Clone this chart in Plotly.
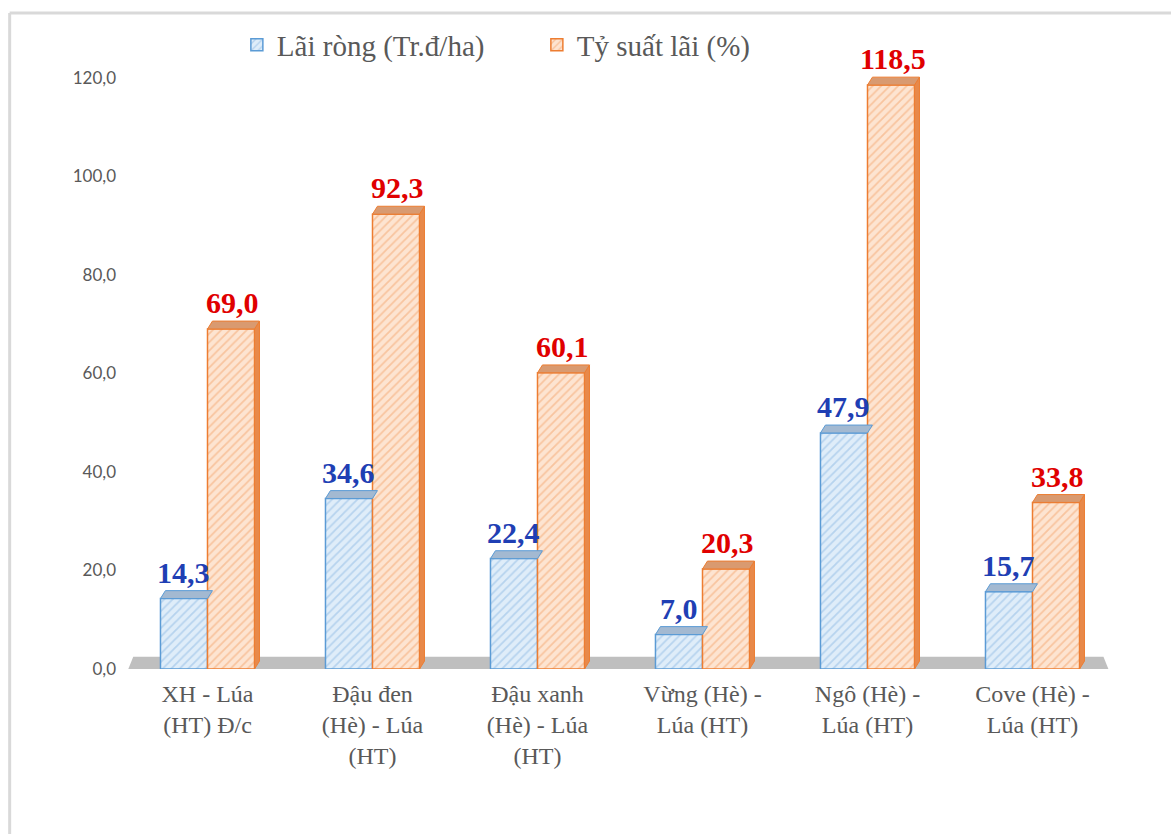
import plotly.graph_objects as go

categories = ["XH - Lúa<br>(HT) Đ/c", "Đậu đen<br>(Hè) - Lúa<br>(HT)", "Đậu xanh<br>(Hè) - Lúa<br>(HT)",
              "Vừng (Hè) -<br>Lúa (HT)", "Ngô (Hè) -<br>Lúa (HT)", "Cove (Hè) -<br>Lúa (HT)"]
lai_rong = [14.3, 34.6, 22.4, 7.0, 47.9, 15.7]
ty_suat = [69.0, 92.3, 60.1, 20.3, 118.5, 33.8]
y_ticks = [0, 20, 40, 60, 80, 100, 120]
series_names = ["Lãi ròng (Tr.đ/ha)", "Tỷ suất lãi (%)"]

x = list(range(len(categories)))
W = 0.285          # bar width in category units
DX = 0.03          # 3D depth (x)
DY = 1.6           # 3D depth (y)

blue_edge, blue_bg, blue_fg = "#5b9bd5", "#dfedf9", "#8db9e4"
or_edge, or_bg, or_fg = "#ed7d31", "#fde4d1", "#f3a36c"

fig = go.Figure()
fig.add_trace(go.Bar(
    x=x, y=lai_rong, name=series_names[0], width=W, offset=-W,
    marker=dict(color=blue_fg, line=dict(color=blue_edge, width=1.5),
                pattern=dict(shape="/", bgcolor=blue_bg, fgcolor=blue_fg, size=6, solidity=0.3)),
))
fig.add_trace(go.Bar(
    x=x, y=ty_suat, name=series_names[1], width=W, offset=0,
    marker=dict(color=or_fg, line=dict(color=or_edge, width=1.5),
                pattern=dict(shape="/", bgcolor=or_bg, fgcolor=or_fg, size=6, solidity=0.3)),
))

shapes = []
# floor
shapes.append(dict(type="path", xref="x", yref="y", layer="below",
                   path=f"M -0.48,0 L 5.46,0 L 5.43,2.5 L -0.45,2.5 Z",
                   fillcolor="#bfbfbf", line=dict(width=0)))
# 3D caps and sides
for i in x:
    xl, xr, v = i - W, i, lai_rong[i]
    shapes.append(dict(type="path", xref="x", yref="y", layer="above",
                       path=f"M {xl},{v} L {xl+DX},{v+DY} L {xr+DX},{v+DY} L {xr},{v} Z",
                       fillcolor="#a3b9d1", line=dict(color=blue_edge, width=1)))
    xl, xr, v = i, i + W, ty_suat[i]
    shapes.append(dict(type="path", xref="x", yref="y", layer="above",
                       path=f"M {xr},0 L {xr+DX},{DY} L {xr+DX},{v+DY} L {xr},{v} Z",
                       fillcolor="#e8894a", line=dict(color=or_edge, width=1)))
    shapes.append(dict(type="path", xref="x", yref="y", layer="above",
                       path=f"M {xl},{v} L {xl+DX},{v+DY} L {xr+DX},{v+DY} L {xr},{v} Z",
                       fillcolor="#d99a70", line=dict(color=or_edge, width=1)))
# outer frame (left and top lines)
shapes.append(dict(type="line", xref="paper", yref="paper", x0=-0.1165, x1=-0.1165, y0=1.065, y1=-0.3,
                   line=dict(color="#d9d9d9", width=3)))
shapes.append(dict(type="line", xref="paper", yref="paper", x0=-0.1165, x1=1.1, y0=1.065, y1=1.065,
                   line=dict(color="#d9d9d9", width=3)))

def fmt(v):
    return f"{v:.1f}".replace(".", ",")

annotations = []
for i in x:
    annotations.append(dict(x=i - W / 2, y=lai_rong[i] + DY, xref="x", yref="y", text=f"<b>{fmt(lai_rong[i])}</b>",
                            showarrow=False, yanchor="bottom", yshift=0,
                            font=dict(family="Liberation Serif", size=30, color="#1f3fb4")))
    annotations.append(dict(x=i + W / 2 + 0.01, y=ty_suat[i] + DY, xref="x", yref="y", text=f"<b>{fmt(ty_suat[i])}</b>",
                            showarrow=False, yanchor="bottom", yshift=0,
                            font=dict(family="Liberation Serif", size=30, color="#e00000")))

fig.update_layout(
    width=1171, height=834,
    margin=dict(l=125, r=56, t=53, b=165, autoexpand=False),
    paper_bgcolor="white", plot_bgcolor="white",
    barmode="overlay",
    separators=",.",
    shapes=shapes, annotations=annotations,
    legend=dict(orientation="h", x=0.113, xanchor="left", y=1.013, yanchor="middle",
                font=dict(family="Liberation Serif", size=29, color="#595959"),
                itemwidth=30, entrywidth=255, entrywidthmode="pixels",
                bgcolor="rgba(0,0,0,0)", traceorder="normal"),
    xaxis=dict(range=[-0.5, 5.5], tickmode="array", tickvals=x, ticktext=categories,
               showgrid=False, zeroline=False, showline=False, ticks="", ticklabelstandoff=8,
               tickfont=dict(family="Liberation Serif", size=24, color="#595959")),
    yaxis=dict(range=[0, 125], tickmode="array", tickvals=y_ticks,
               ticktext=[fmt(t) for t in y_ticks],
               showgrid=False, zeroline=False, showline=False, ticks="", ticklabelstandoff=8,
               tickfont=dict(family="Lato", size=17, color="#595959")),
)

fig.write_html("out.html")
